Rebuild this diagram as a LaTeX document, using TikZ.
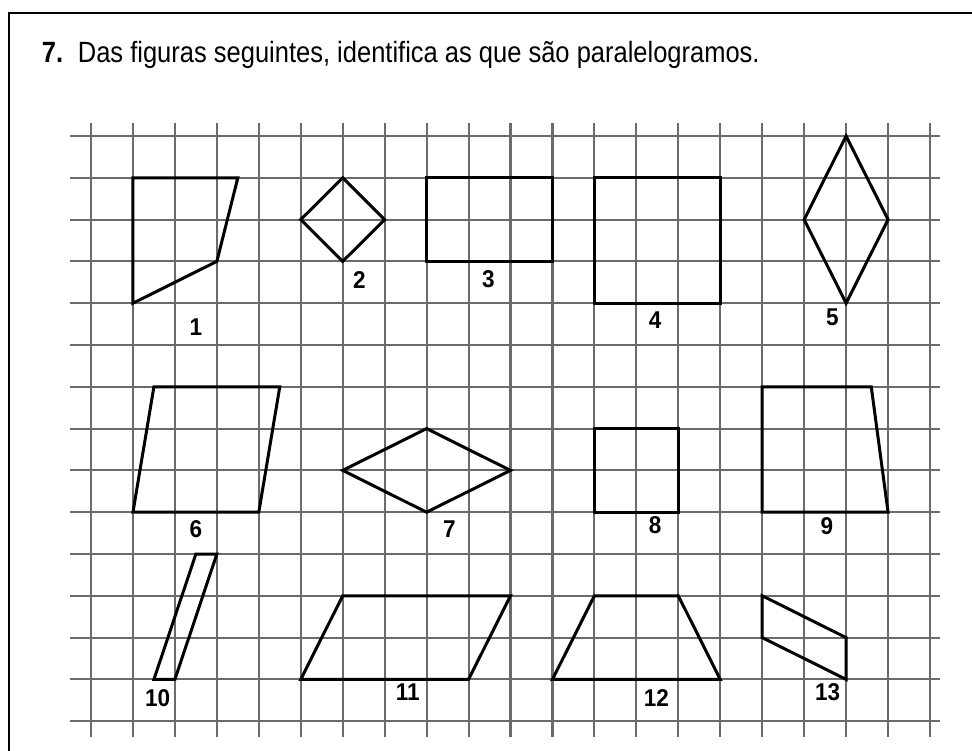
\documentclass[tikz,border=0pt]{standalone}
\usepackage{graphicx}
\usepackage{fontspec}
\setmainfont{Liberation Sans}
\begin{document}
\begin{tikzpicture}[x=1pt,y=-1pt,
  gridline/.style={draw=black!58, line width=2.1pt},
  fig/.style={draw=black, line width=3pt},
  lbl/.style={font=\fontsize{22.5}{26}\selectfont\bfseries, inner sep=0pt},
  ttl/.style={font=\fontsize{25.5}{30}\selectfont, inner sep=0pt, anchor=base west}]
\useasboundingbox (0,0) rectangle (972,751);
\draw[line width=2pt] (9,760) -- (9,13.5) -- (980,13.5);
\node[ttl] (num) at (41.7,62.7) {\scalebox{1}[1.15]{\textbf{7.}}};
\node[ttl] (title) at (77.7,62.7) {\scalebox{1}[1.15]{Das figuras seguintes, identifica as que são paralelogramos.}};
\begin{scope}[shift={(91,136)}, x=41.95pt, y=-41.8pt]
  \foreach \i in {0,...,20} \draw[gridline] (\i,-0.31) -- (\i,14.38);
  \foreach \j in {0,...,14} \draw[gridline] (-0.5,\j) -- (20.24,\j);
  % figures
  \draw[fig] (1,1) -- (3.5,1) -- (3,3) -- (1,4) -- cycle;
  \draw[fig] (6,1) -- (7,2) -- (6,3) -- (5,2) -- cycle;
  \draw[fig] (8,1) rectangle (11,3);
  \draw[fig] (12,1) rectangle (15,4);
  \draw[fig] (18,0) -- (19,2) -- (18,4) -- (17,2) -- cycle;
  \draw[fig] (1.5,6) -- (4.5,6) -- (4,9) -- (1,9) -- cycle;
  \draw[fig] (6,8) -- (8,7) -- (10,8) -- (8,9) -- cycle;
  \draw[fig] (12,7) rectangle (14,9);
  \draw[fig] (16,6) -- (18.6,6) -- (19,9) -- (16,9) -- cycle;
  \draw[fig] (2.5,10) -- (3,10) -- (2,13) -- (1.5,13) -- cycle;
  \draw[fig] (6,11) -- (10,11) -- (9,13) -- (5,13) -- cycle;
  \draw[fig] (12,11) -- (14,11) -- (15,13) -- (11,13) -- cycle;
  \draw[fig] (16,11) -- (18,12) -- (18,13) -- (16,12) -- cycle;
  % labels
  \node[lbl] (l1) at (2.5,4.57) {\scalebox{1}[1.08]{1}};
  \node[lbl] (l2) at (6.4,3.44) {\scalebox{1}[1.08]{2}};
  \node[lbl] (l3) at (9.47,3.42) {\scalebox{1}[1.08]{3}};
  \node[lbl] (l4) at (13.45,4.4) {\scalebox{1}[1.08]{4}};
  \node[lbl] (l5) at (17.67,4.33) {\scalebox{1}[1.08]{5}};
  \node[lbl] (l6) at (2.5,9.4) {\scalebox{1}[1.08]{6}};
  \node[lbl] (l7) at (8.54,9.4) {\scalebox{1}[1.08]{7}};
  \node[lbl] (l8) at (13.45,9.3) {\scalebox{1}[1.08]{8}};
  \node[lbl] (l9) at (17.54,9.33) {\scalebox{1}[1.08]{9}};
  \node[lbl] (l10) at (1.59,13.45) {\scalebox{1}[1.08]{10}};
  \node[lbl] (l11) at (7.55,13.3) {\scalebox{1}[1.08]{11}};
  \node[lbl] (l12) at (13.48,13.45) {\scalebox{1}[1.08]{12}};
  \node[lbl] (l13) at (17.56,13.3) {\scalebox{1}[1.08]{13}};
\end{scope}
\end{tikzpicture}
\end{document}
